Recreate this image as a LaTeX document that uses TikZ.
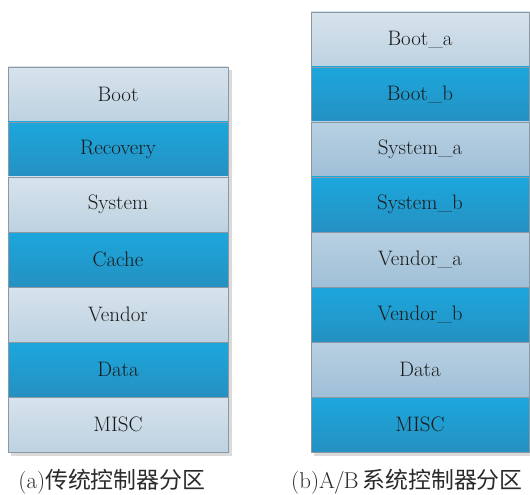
\documentclass[tikz,border=0pt]{standalone}
\usepackage{fontspec}
\newfontfamily\cjk{Noto Sans CJK SC}
\begin{document}
\begin{tikzpicture}[x=1bp,y=-1bp,
  lightrow/.style={top color=lighttop,bottom color=lightbot},
  midrow/.style={top color=midtop,bottom color=midbot},
  darkrow/.style={top color=darktop,bottom color=darkbot},
  rowlabel/.style={font=\fontsize{21}{23}\selectfont,text=labeltext},
  caption/.style={font=\fontsize{23}{25}\selectfont,text=captext,anchor=center,inner sep=0pt}
]
\definecolor{lighttop}{HTML}{D7E3EC}
\definecolor{lightbot}{HTML}{BDD2E1}
\definecolor{midtop}{HTML}{B8D0E2}
\definecolor{midbot}{HTML}{9FBFD7}
\definecolor{darktop}{HTML}{1CA7DD}
\definecolor{darkbot}{HTML}{2590C1}
\definecolor{edgegray}{HTML}{8C99A4}
\definecolor{shadowgray}{HTML}{DADADA}
\definecolor{labeltext}{HTML}{1A1A1A}
\definecolor{captext}{HTML}{2A2A2A}

\useasboundingbox (0,0) rectangle (530,495);

% drop shadows of the two stacks
\fill[shadowgray] (11,70) rectangle (232,456);
\fill[shadowgray] (314,15) rectangle (533,456);

% (a) traditional layout: seven rows of 55bp
\foreach \i/\name/\sty in {0/Boot/lightrow,1/Recovery/darkrow,2/System/lightrow,
    3/Cache/darkrow,4/Vendor/lightrow,5/Data/darkrow,6/MISC/lightrow}{
  \path[\sty,draw=edgegray,line width=0.8bp] (8,67+55*\i) rectangle (228,122+55*\i);
  \node[rowlabel] (a\i) at (118,94.5+55*\i) {\name};
}

% (b) A/B layout: eight rows of 55bp
\foreach \i/\name/\sty in {0/Boot\_a/lightrow,1/Boot\_b/darkrow,2/System\_a/midrow,
    3/System\_b/darkrow,4/Vendor\_a/midrow,5/Vendor\_b/darkrow,6/Data/midrow,7/MISC/darkrow}{
  \path[\sty,draw=edgegray,line width=0.8bp] (311,12+55*\i) rectangle (529.6,67+55*\i);
  \node[rowlabel] (b\i) at (420,39.5+55*\i) {\name};
}

% captions
\node[caption] (capa) at (112,482) {(a)\cjk 传统控制器分区};
\node[caption] (capb) at (407,482) {(b)A\kern-1pt/\kern-1pt B\,\cjk 系统控制器分区};
\end{tikzpicture}
\end{document}
